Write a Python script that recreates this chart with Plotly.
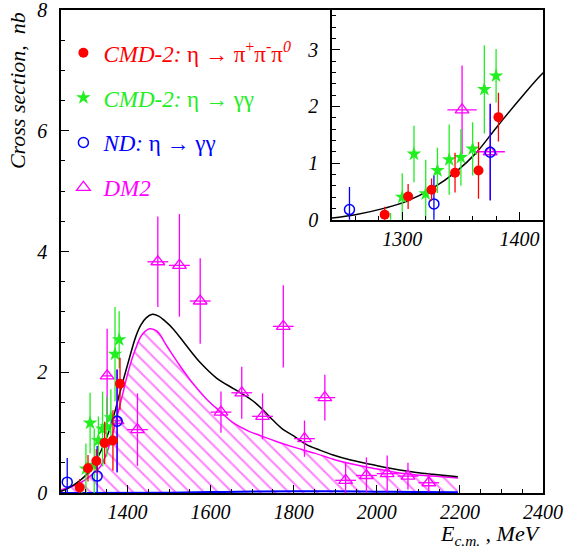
import plotly.graph_objects as go

# ---------------- data ----------------
# CMD-2: eta -> pi+ pi- pi0
cmd3_E = [1285, 1305, 1325, 1345, 1365, 1382]
cmd3_s = [0.09, 0.41, 0.53, 0.83, 0.87, 1.81]
cmd3_e = [0.14, 0.22, 0.20, 0.35, 0.50, 0.43]

# CMD-2: eta -> gamma gamma
cmdg_E = [1290, 1300, 1310, 1320, 1330, 1340, 1350, 1360, 1370, 1380]
cmdg_s = [-0.15, 0.40, 1.16, 0.46, 0.87, 1.06, 1.10, 1.25, 2.30, 2.54]
cmdg_e = [0.27, 0.42, 0.50, 0.60, 0.40, 0.62, 0.50, 0.47, 0.78, 0.47]

# ND: eta -> gamma gamma
nd_E = [1255, 1327, 1375]
nd_s = [0.18, 0.28, 1.19]
nd_e = [0.40, 0.50, 0.85]

# DM2
dm2_E = [1351, 1375, 1424, 1473, 1525, 1575, 1625, 1675, 1725, 1775, 1826, 1875,
         1925, 1975, 2025, 2075, 2125]
dm2_s = [1.94, 1.20, 1.05, 3.83, 3.77, 3.18, 1.34, 1.66, 1.27, 2.76, 0.90, 1.58,
         0.21, 0.29, 0.32, 0.28, 0.17]
dm2_e = [0.78, 0.85, 0.60, 0.75, 0.85, 0.71, 0.34, 0.43, 0.38, 0.68, 0.30, 0.38,
         0.30, 0.30, 0.30, 0.22, 0.15]
dm2_xe = [12.5, 12.5, 25, 25, 25, 25, 25, 25, 25, 25, 25, 25, 25, 25, 25, 25, 25]

# total fit (black curve)
fit_E = [1240, 1260, 1286, 1303, 1326, 1346, 1363, 1380, 1400, 1420, 1432, 1445,
         1460, 1475, 1490, 1511, 1543, 1575, 1615, 1655, 1679, 1703, 1727, 1751,
         1775, 1799, 1831, 1863, 1895, 1935, 1975, 2015, 2055, 2095, 2135, 2195]
fit_s = [0.03, 0.09, 0.21, 0.32, 0.56, 0.85, 1.18, 1.62, 2.12, 2.59, 2.78, 2.90,
         2.96, 2.93, 2.85, 2.71, 2.43, 2.16, 1.90, 1.73, 1.63, 1.52, 1.37, 1.20,
         1.05, 0.95, 0.80, 0.71, 0.63, 0.55, 0.49, 0.43, 0.38, 0.34, 0.31, 0.27]

# hatched contribution (magenta curve)
hat_E = [1240, 1287, 1310, 1335, 1352, 1367, 1387, 1403, 1419, 1435, 1453, 1471,
         1495, 1527, 1559, 1591, 1623, 1655, 1690, 1720, 1760, 1800, 1850, 1895,
         1935, 1975, 2015, 2055, 2095, 2135, 2195]
hat_s = [0.05, 0.17, 0.28, 0.44, 0.70, 1.05, 1.60, 2.04, 2.38, 2.62, 2.72, 2.68,
         2.43, 2.10, 1.80, 1.55, 1.35, 1.16, 1.03, 0.95, 0.85, 0.76, 0.66, 0.56,
         0.49, 0.43, 0.38, 0.33, 0.30, 0.28, 0.25]

# small contribution (blue curve)
blu_E = [1240, 1500, 1600, 1700, 1800, 1900, 2000, 2100, 2195]
blu_s = [0.0, 0.005, 0.015, 0.025, 0.03, 0.028, 0.022, 0.016, 0.012]

# tick labels
main_xticks = [1400, 1600, 1800, 2000, 2200, 2400]
main_yticks = [0, 2, 4, 6, 8]
inset_xticks = [1300, 1400]
inset_yticks = [0, 1, 2, 3]

INSET_MAX_E = 1400  # inset shows data up to this energy

RED = '#ff0000'
GREEN = '#22ee22'
BLUE = '#0000ff'
MAG = '#ff00ff'
FONT = 'Liberation Serif, Times New Roman, Times, serif'

fig = go.Figure()

# hatched region
fig.add_trace(go.Scatter(
    x=hat_E, y=hat_s, mode='lines', line=dict(color=MAG, width=1.5, shape='spline'),
    fill='tozeroy', fillcolor='rgba(0,0,0,0)',
    fillpattern=dict(shape='\\', fgcolor=MAG, bgcolor='rgba(0,0,0,0)', size=10, solidity=0.2),
    showlegend=False, hoverinfo='skip'))
fig.add_trace(go.Scatter(x=blu_E, y=blu_s, mode='lines', line=dict(color=BLUE, width=2, shape='spline'),
                         showlegend=False, hoverinfo='skip'))
fig.add_trace(go.Scatter(x=fit_E, y=fit_s, mode='lines', line=dict(color='black', width=1.5, shape='spline'),
                         showlegend=False, hoverinfo='skip'))


def sel(E, *arrs, emax=None):
    if emax is None:
        return (E,) + arrs
    idx = [i for i, e in enumerate(E) if e <= emax]
    return ([E[i] for i in idx],) + tuple([a[i] for i in idx] for a in arrs)


def points(xa, ya, show, emax=None):
    lg = dict(showlegend=show, xaxis=xa, yaxis=ya)
    dE, ds, de, dxe = sel(dm2_E, dm2_s, dm2_e, dm2_xe, emax=emax)
    fig.add_trace(go.Scatter(
        x=dE, y=ds, mode='markers',
        marker=dict(symbol='triangle-up-open', size=12, color=MAG, line=dict(width=1.3, color=MAG)),
        error_y=dict(type='data', array=de, color=MAG, thickness=1.3, width=0),
        error_x=dict(type='data', array=dxe, color=MAG, thickness=1.3, width=0),
        name="<span style='color:%s'><i>DM2</i></span>" % MAG, legendgroup='d', legendrank=4, **lg))
    fig.add_trace(go.Scatter(
        x=cmdg_E, y=cmdg_s, mode='markers',
        marker=dict(symbol='star', size=11, color=GREEN, line=dict(width=0)),
        error_y=dict(type='data', array=cmdg_e, color=GREEN, thickness=1.3, width=0),
        name="<span style='color:%s'><i>CMD-2:</i> η → γγ</span>" % GREEN, legendgroup='b', legendrank=2, **lg))
    fig.add_trace(go.Scatter(
        x=nd_E, y=nd_s, mode='markers',
        marker=dict(symbol='circle-open', size=10, color=BLUE, line=dict(width=1.5, color=BLUE)),
        error_y=dict(type='data', array=nd_e, color=BLUE, thickness=1.3, width=0),
        name="<span style='color:%s'><i>ND:</i> η → γγ</span>" % BLUE, legendgroup='c', legendrank=3, **lg))
    fig.add_trace(go.Scatter(
        x=cmd3_E, y=cmd3_s, mode='markers',
        marker=dict(symbol='circle', size=10, color=RED),
        error_y=dict(type='data', array=cmd3_e, color=RED, thickness=1.3, width=0),
        name="<span style='color:%s'><i>CMD-2:</i> η → π<sup>+</sup>π<sup>-</sup>π<sup><i>0</i></sup></span>" % RED,
        legendgroup='a', legendrank=1, **lg))


points('x', 'y', True)

# inset
fig.add_trace(go.Scatter(x=fit_E, y=fit_s, mode='lines', line=dict(color='black', width=1.5, shape='spline'),
                         showlegend=False, hoverinfo='skip', xaxis='x2', yaxis='y2'))
points('x2', 'y2', False, emax=INSET_MAX_E)


def itx(vals):
    return ['<i>%s</i>' % v for v in vals]


tickf = dict(family=FONT, size=20, color='black')
axcommon = dict(showgrid=False, zeroline=False, showline=True, linecolor='black', linewidth=1.5,
                mirror=True, ticks='inside', tickcolor='black', tickwidth=1.2, tickfont=tickf,
                automargin=False, ticklabeloverflow='allow')

fig.update_layout(
    width=564, height=554,
    margin=dict(l=60.5, r=20.5, t=10, b=60.5, autoexpand=False),
    paper_bgcolor='white', plot_bgcolor='white',
    font=dict(family=FONT),
    xaxis=dict(domain=[0, 1], range=[1240, 2400], tickvals=main_xticks, ticktext=itx(main_xticks), ticklen=8,
               minor=dict(dtick=50, tick0=0, ticks='inside', ticklen=4, tickcolor='black', tickwidth=1.2),
               anchor='y', **axcommon),
    yaxis=dict(domain=[0, 1], range=[0, 8], tickvals=main_yticks, ticktext=itx(main_yticks), ticklen=8,
               ticklabelstandoff=8,
               minor=dict(dtick=0.5, tick0=0, ticks='inside', ticklen=4, tickcolor='black', tickwidth=1.2),
               anchor='x', **axcommon),
    xaxis2=dict(domain=[0.562, 1], range=[1240, 1420], tickvals=inset_xticks, ticktext=itx(inset_xticks),
                ticklen=8,
                minor=dict(dtick=20, tick0=0, ticks='inside', ticklen=4, tickcolor='black', tickwidth=1.2),
                anchor='y2', **axcommon),
    yaxis2=dict(domain=[0.5657, 1], range=[0, 3.7], tickvals=inset_yticks, ticktext=itx(inset_yticks),
                ticklen=8, ticklabelstandoff=8,
                minor=dict(dtick=0.2, tick0=0, ticks='inside', ticklen=4, tickcolor='black', tickwidth=1.2),
                anchor='x2', **axcommon),
    legend=dict(x=0.005, y=0.956, xanchor='left', yanchor='top', bgcolor='rgba(0,0,0,0)',
                font=dict(family=FONT, size=23), tracegroupgap=12, traceorder='grouped'),
    annotations=[
        dict(text='<i>Cross section,  nb</i>', textangle=-90, xref='paper', yref='paper',
             x=-0.09, y=1.0, xanchor='center', yanchor='top', showarrow=False,
             font=dict(family=FONT, size=22, color='black')),
        dict(text='<i>E</i><sub><i>c.m.</i></sub><i> , MeV</i>', xref='paper', yref='paper',
             x=1.0, y=-0.087, xanchor='right', yanchor='middle', showarrow=False,
             font=dict(family=FONT, size=22, color='black')),
    ],
)

fig.write_html('out.html', config={'displayModeBar': False},
               post_script="document.body.style.margin='0';document.body.style.padding='0';")
